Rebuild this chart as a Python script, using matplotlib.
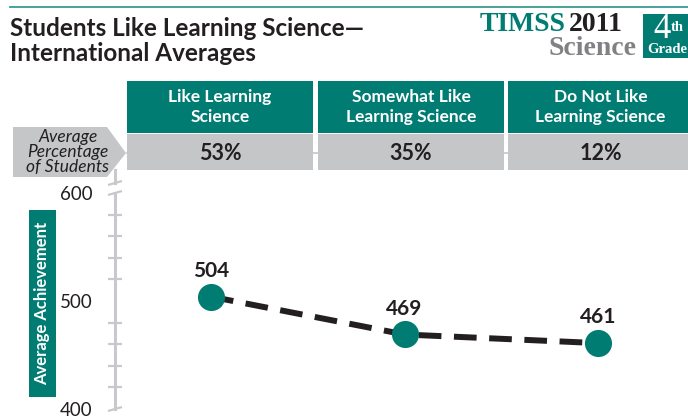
import numpy as np
import matplotlib.pyplot as plt
from matplotlib.patches import Rectangle, Polygon

# data
categories = ["Like Learning\nScience", "Somewhat Like\nLearning Science", "Do Not Like\nLearning Science"]
pct_students = [53, 35, 12]
achievement = [504, 469, 461]
y_labels = [400, 500, 600]
y_minor = [420, 440, 460, 480, 500, 520, 540, 560, 580]

TEAL = "#007c73"
GRAY = "#c5c6c8"
AXGRAY = "#c9c9cd"
DARK = "#231f20"
SANS = ["Lato", "DejaVu Sans"]
SERIF = ["Liberation Serif", "DejaVu Serif"]

W, H = 688, 419
fig = plt.figure(figsize=(W / 100, H / 100), dpi=100)

# background canvas in pixel coordinates
bg = fig.add_axes([0, 0, 1, 1])
bg.set_xlim(0, W)
bg.set_ylim(H, 0)
bg.axis("off")

# top rule
bg.plot([10, W], [7, 7], color="#3a9a92", lw=1.3)

# title
bg.text(10, 36, "Students Like Learning Science\u2014", family=SANS, weight="bold",
        fontsize=17.5, color=DARK, va="baseline")
bg.text(10, 61, "International Averages", family=SANS, weight="bold",
        fontsize=17.5, color=DARK, va="baseline")

# TIMSS logo
bg.text(569, 31, "2011", family=SERIF, weight="bold", fontsize=20, color=DARK,
        ha="left", va="baseline")
bg.text(565, 31, "TIMSS", family=SERIF, weight="bold", fontsize=20, color=TEAL,
        ha="right", va="baseline")
bg.text(636, 55, "Science", family=SERIF, weight="bold", fontsize=20, color="#808184",
        ha="right", va="baseline")
bg.add_patch(Rectangle((643, 14), 50, 44, color=TEAL, lw=0))
bg.text(662, 38, "4", family=SERIF, fontsize=25, color="white", ha="center", va="baseline")
bg.text(671, 31, "th", family=SERIF, weight="bold", fontsize=10.5, color="white",
        ha="left", va="baseline")
bg.text(647, 53, "Grade", family=SERIF, weight="bold", fontsize=10.5, color="white",
        ha="left", va="baseline")

# header cells
col_edges = [(127, 313), (318, 504), (508, 693)]
for (x0, x1), cat, p in zip(col_edges, categories, pct_students):
    bg.add_patch(Rectangle((x0, 81), x1 - x0, 52, color=TEAL, lw=0))
    bg.add_patch(Rectangle((x0, 134), x1 - x0, 36, color=GRAY, lw=0))
    bg.text((x0 + x1) / 2, 107, cat, family=SANS, weight="bold", fontsize=12.5,
            color="white", ha="center", va="center", linespacing=1.25)
    bg.text((x0 + x1) / 2, 153, f"{p}%", family=SANS, weight="bold", fontsize=15.5,
            color=DARK, ha="center", va="center")
bg.plot([127, W], [153, 153], color=GRAY, lw=1.2, zorder=0)

# row label arrow
bg.add_patch(Polygon([[13, 127], [107, 127], [126, 153], [107, 177], [13, 177]],
                     closed=True, color=GRAY, lw=0))
bg.text(68, 152, "Average\nPercentage\nof Students", family=SANS, style="italic",
        fontsize=12.5, color=DARK, ha="center", va="center", linespacing=0.95)

# y axis label box
bg.add_patch(Rectangle((29, 210), 27, 187, color=TEAL, lw=0))
bg.text(42.5, 303.5, "Average Achievement", family=SANS, weight="bold", fontsize=12,
        color="white", ha="center", va="center", rotation=90)

# data axes
AX_L, AX_R, Y_TOP, Y_BOT = 115, W, 193, 409
X0, DX = 211, 193.5
ax = fig.add_axes([AX_L / W, (H - Y_BOT) / H, (AX_R - AX_L) / W, (Y_BOT - Y_TOP) / H])
ax.patch.set_alpha(0)
ax.set_xlim((AX_L - X0) / DX, (AX_R - X0) / DX)
ax.set_ylim(400, 600)
for s in ["top", "right", "bottom"]:
    ax.spines[s].set_visible(False)
ax.spines["left"].set_color(AXGRAY)
ax.spines["left"].set_linewidth(2.2)
ax.set_xticks([])
ax.set_yticks(y_labels)
ax.set_yticklabels([str(v) for v in y_labels], family=SANS, fontsize=13.5, color=DARK)
ax.tick_params(axis="y", which="major", length=0, pad=16)
ax.set_yticks(y_minor, minor=True)
ax.tick_params(axis="y", which="minor", direction="inout", length=9.5, width=1.6,
               color=AXGRAY)

# slanted caps and the break stub
for y in [Y_TOP + 2, Y_BOT + 2, 185]:
    bg.plot([108, 122], [y, y - 4], color=AXGRAY, lw=1.6, solid_capstyle="butt")
bg.plot([115, 115], [170, 183], color=AXGRAY, lw=2.2)

xs = np.arange(len(achievement))
ax.plot(xs, achievement, color=DARK, lw=4.3, dashes=(3.8, 2.1), zorder=2)
ax.plot(xs, achievement, "o", color=TEAL, ms=19.5, mec="none", zorder=3, clip_on=False)
for x, v in zip(xs, achievement):
    ax.annotate(str(v), (x, v), xytext=(0, 18.5), textcoords="offset points",
                ha="center", va="center", family=SANS, weight="bold", fontsize=15,
                color=DARK)

fig.savefig("out.png", dpi=100)
